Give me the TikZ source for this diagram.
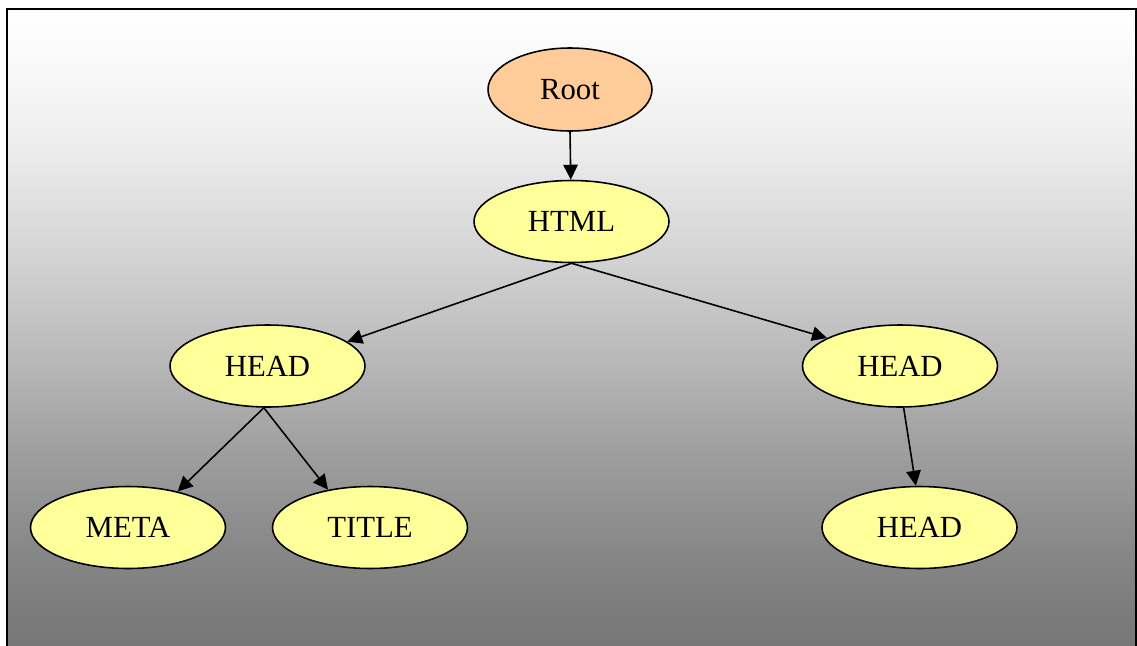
\documentclass[tikz,border=0pt]{standalone}
\usepackage{fontspec}
\setmainfont{Liberation Serif}
\usepackage{tikz}
\usetikzlibrary{shapes.geometric, arrows.meta, positioning}
\definecolor{domroot}{RGB}{255,204,153}
\definecolor{domyellow}{RGB}{255,255,153}
\definecolor{domgray}{RGB}{118,118,118}
\pgfdeclareverticalshading{domfade}{100bp}{color(0bp)=(domgray); color(25bp)=(domgray);
  color(32.5bp)=(black!47); color(40.4bp)=(black!37.6); color(48.2bp)=(black!26.7);
  color(56.1bp)=(black!16.5); color(63.9bp)=(black!7.5); color(69.4bp)=(black!3);
  color(75bp)=(white); color(100bp)=(white)}
\tikzset{
  %% ---- nodes ----
  domnode/.style = {ellipse, draw=black, line width=0.9pt,
                    fill=#1, minimum width=3.9cm, minimum height=1.64cm,
                    inner sep=0pt, font=\fontsize{17.5}{21}\selectfont},
  domnode/.default = domyellow,
  %% ---- arrows ----
  arrow/.style = {-{Triangle[length=3mm, width=2.9mm]}, line width=0.9pt},
}

\begin{document}
\begin{tikzpicture}[x=0.02cm, y=-0.02cm]

  \useasboundingbox (0,0) rectangle (1137,646);

  %% Frame with fading background
  \shade[shading=domfade] (7,9) rectangle (1137,646);
  \draw[line width=1.1pt] (7,660) -- (7,9) -- (1136,9) -- (1136,660);

  %% Tree nodes
  \node[domnode=domroot, minimum width=3.28cm, minimum height=1.66cm]
    (root) at (570,89.5) {Root};
  \node[domnode] (html)  at (571.5,221.5) {HTML};
  \node[domnode] (headl) at (267.5,366)   {HEAD};
  \node[domnode] (headr) at (900,366)     {HEAD};
  \node[domnode] (meta)  at (128,527.5)   {META};
  \node[domnode] (title) at (370,527.5)   {TITLE};
  \node[domnode] (headb) at (919.5,527.5) {HEAD};

  %% Edges
  \draw[arrow] (root.south)  -- (html);
  \draw[arrow] (html.south)  -- (headl.17);
  \draw[arrow] (html.south)  -- (headr.159);
  \draw[arrow] (headl.265)   -- (meta.36);
  \draw[arrow] (headl.265)   -- (title.138);
  \draw[arrow] (headr.275)   -- (headb.95);

\end{tikzpicture}
\end{document}
